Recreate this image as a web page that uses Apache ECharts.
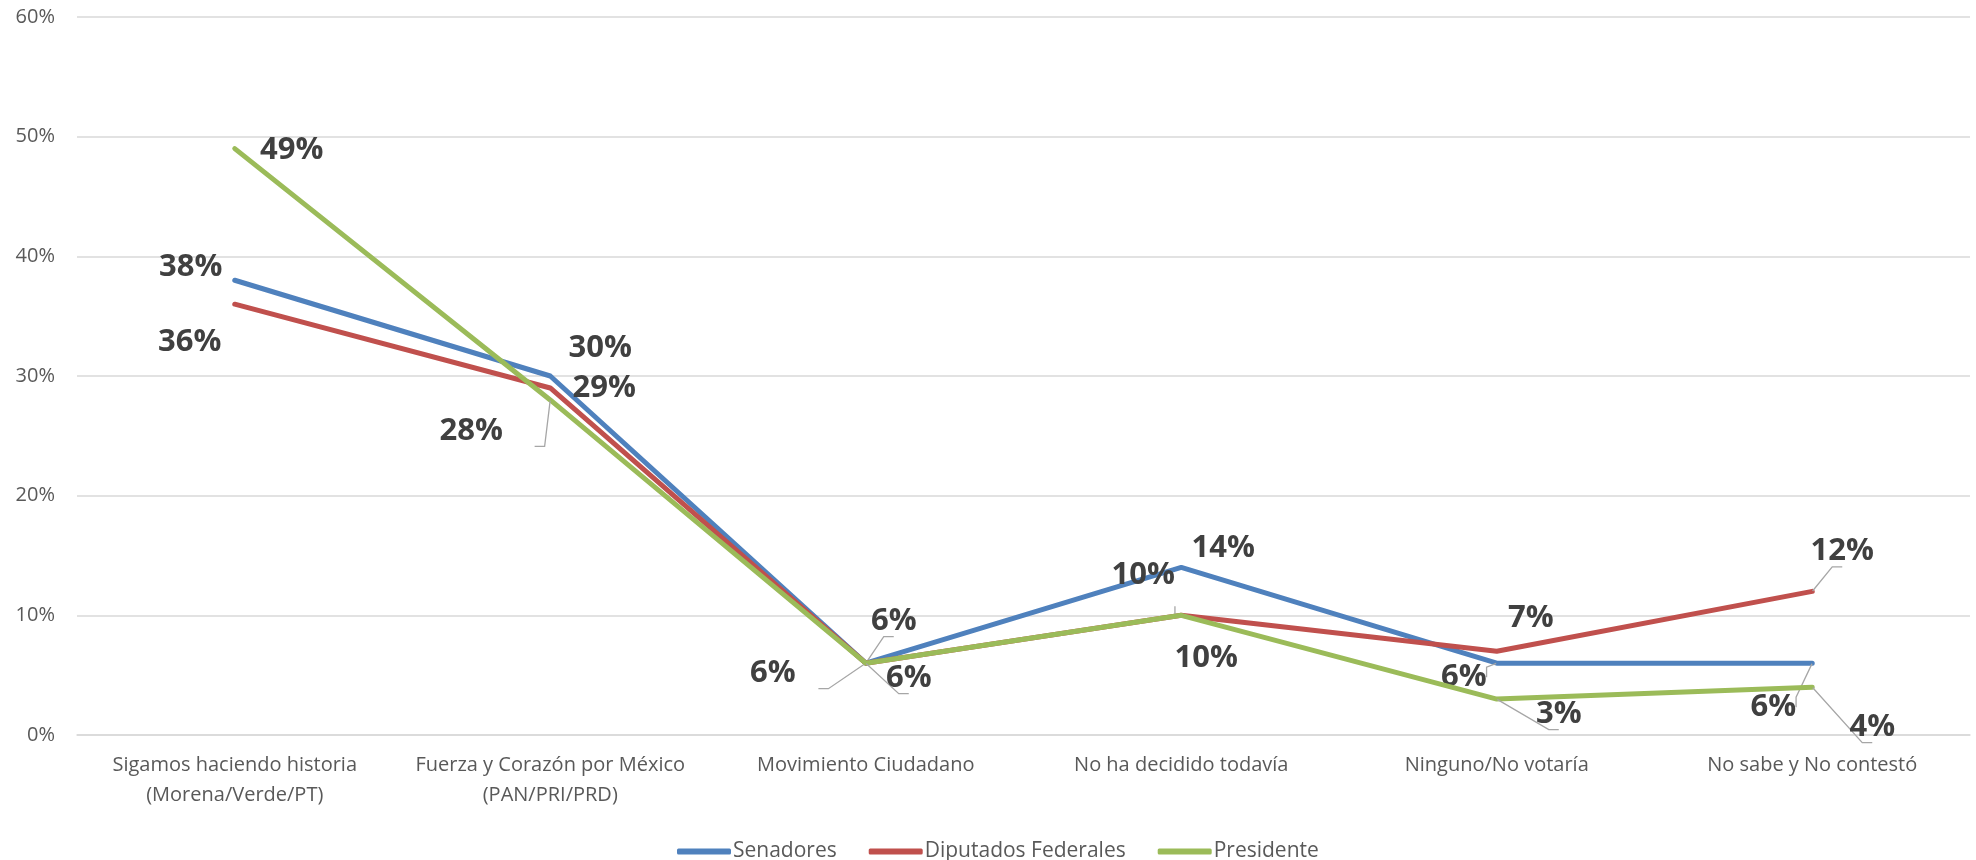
<!DOCTYPE html>
<html>
<head>
<meta charset="utf-8">
<script src="https://cdn.jsdelivr.net/npm/echarts@6/dist/echarts.min.js"></script>
<style>
html,body{margin:0;padding:0;background:#fff;}
#c{width:1976px;height:860px;}
</style>
</head>
<body>
<div id="c"></div>
<script>
const categories = [
  "Sigamos haciendo historia\n(Morena/Verde/PT)",
  "Fuerza y Corazón por México\n(PAN/PRI/PRD)",
  "Movimiento Ciudadano",
  "No ha decidido todavía",
  "Ninguno/No votaría",
  "No sabe y No contestó"
];
const seriesNames = ["Senadores", "Diputados Federales", "Presidente"];
const senadores = [38, 30, 6, 14, 6, 6];
const diputados = [36, 29, 6, 10, 7, 12];
const presidente = [49, 28, 6, 10, 3, 4];
const yTicks = [0, 10, 20, 30, 40, 50, 60];

// label placement (center offset from point, px) and whether a leader line is drawn
const labelOffsets = [
  [[-44,-13],[50,-28],[28,-42],[42,-19],[-33,14],[-39,44]],
  [[-45,38],[54,0],[-93,10],[-38,-40],[34,-33],[30,-40]],
  [[57,2],[-79,31],[43,15],[25,43],[62,15],[60,40]]
];
const leaders = [
  [false,false,true,false,true,true],
  [false,false,true,true,false,true],
  [false,true,true,false,true,true]
];
const colors = ["#4F81BD", "#C0504D", "#9BBB59"];
const values = [senadores, diputados, presidente];

const chart = echarts.init(document.getElementById('c'));
const series = values.map((vals, s) => ({
  name: seriesNames[s],
  type: 'line',
  data: vals.map((v, i) => ({
    value: v,
    label: { offset: labelOffsets[s][i] },
    labelLine: { show: leaders[s][i] }
  })),
  symbol: 'circle',
  symbolSize: 1,
  showSymbol: true,
  lineStyle: { color: colors[s], width: 5, cap: 'round', join: 'round' },
  itemStyle: { color: colors[s] },
  label: {
    show: true,
    position: 'inside',
    formatter: p => p.value + '%',
    fontFamily: 'Open Sans',
    fontWeight: 'bold',
    fontSize: 31,
    color: '#404040'
  },
  labelLine: {
    show: false,
    length2: 10,
    lineStyle: { color: '#A6A6A6', width: 1.3 }
  },
  emphasis: { disabled: true },
  z: 2 + s
}));

chart.setOption({
  animation: false,
  color: colors,
  grid: { left: 77, right: 6, top: 17, bottom: 125, containLabel: false },
  legend: {
    data: seriesNames,
    left: 672,
    top: 836,
    itemWidth: 54,
    itemHeight: 6,
    itemGap: 32,
    icon: 'roundRect',
    textStyle: { fontFamily: 'Open Sans', fontSize: 21, color: '#595959', padding: [0,0,0,-3] }
  },
  xAxis: {
    type: 'category',
    data: categories,
    boundaryGap: true,
    axisLine: { show: true, lineStyle: { color: '#D9D9D9', width: 1.5 } },
    axisTick: { show: false },
    axisLabel: {
      interval: 0,
      margin: 15,
      fontFamily: 'Open Sans',
      fontSize: 20,
      lineHeight: 30,
      color: '#595959'
    }
  },
  yAxis: {
    type: 'value',
    min: yTicks[0],
    max: yTicks[yTicks.length - 1],
    interval: yTicks[1] - yTicks[0],
    axisLine: { show: false },
    axisTick: { show: false },
    splitLine: { lineStyle: { color: '#D9D9D9', width: 1.5 } },
    axisLabel: {
      formatter: '{value}%',
      margin: 22,
      fontFamily: 'Open Sans',
      fontSize: 20,
      color: '#595959'
    }
  },
  series: series
});
</script>
</body>
</html>
